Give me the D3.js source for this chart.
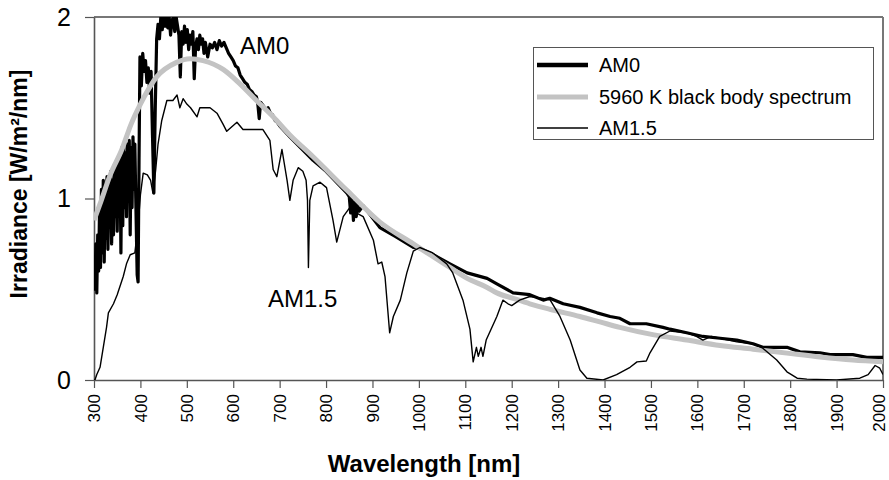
<!DOCTYPE html>
<html><head><meta charset="utf-8">
<script src="https://cdn.jsdelivr.net/npm/d3@7"></script>
<style>
body{margin:0;background:#fff;}
svg text{font-family:"Liberation Sans",Arial,sans-serif;fill:#000;}
</style></head>
<body><svg id="c" width="889" height="480"></svg>
<script>
// Wavelength (nm) tick labels
const xTicks = [300,400,500,600,700,800,900,1000,1100,1200,1300,1400,1500,1600,1700,1800,1900,2000];
const yTicks = [0,1,2];

// AM0 extraterrestrial spectrum [nm, W/m²/nm]
const am0 = [
[300,0.60],[302,0.50],[304,0.75],[306,0.48],[308,0.80],[310,0.60],[312,0.95],[314,0.62],[316,1.05],[318,0.70],
[320,1.10],[322,0.65],[324,1.02],[326,0.78],[328,1.12],[330,0.72],[332,1.08],[334,0.85],[336,1.15],[338,0.75],
[340,1.10],[342,0.80],[344,1.18],[346,0.90],[348,1.20],[350,0.82],[352,1.22],[354,0.95],[356,1.25],[358,0.70],
[360,1.28],[362,0.85],[364,1.30],[366,0.95],[368,1.25],[370,0.90],[372,1.30],[374,1.00],[376,1.32],[378,0.80],
[380,1.28],[382,0.95],[384,1.34],[386,1.05],[388,1.30],[390,1.00],[393,0.58],[395,0.54],[397,1.20],[399,1.78],
[402,1.62],[405,1.80],[408,1.70],[411,1.76],[414,1.64],[417,1.72],[420,1.58],[423,1.70],[426,1.35],[429,1.03],
[432,1.50],[435,1.88],[438,1.96],[441,1.88],[444,2.00],[447,1.93],[450,2.00],[453,1.95],[456,2.00],[459,1.94],
[462,2.00],[465,1.90],[468,1.98],[471,2.00],[474,1.92],[477,2.00],[480,1.95],[483,1.90],[486,1.67],[489,1.92],
[492,1.85],[495,1.95],[498,1.86],[501,1.93],[504,1.82],[507,1.90],[510,1.85],[513,1.92],[516,1.66],[519,1.84],
[522,1.88],[525,1.82],[528,1.90],[531,1.85],[534,1.88],[537,1.80],[540,1.86],[545,1.78],[550,1.85],[555,1.83],
[560,1.86],[565,1.82],[570,1.87],[575,1.84],[580,1.86],[585,1.83],[590,1.80],[595,1.78],[600,1.76],[605,1.73],
[610,1.72],[615,1.68],[620,1.66],[625,1.64],[630,1.63],[635,1.60],[640,1.59],[645,1.57],[650,1.56],[653,1.52],
[656,1.44],[659,1.53],[665,1.51],[670,1.49],[675,1.50],[680,1.47],[685,1.46],[690,1.43],[695,1.42],[700,1.40],
[722,1.34],[772,1.21],[800,1.15],[845,1.03],[850,1.01],[853,0.92],[856,1.00],[859,0.88],[862,0.98],[865,0.90],
[868,0.97],[871,0.93],[880,0.96],[916,0.84],[950,0.79],[988,0.73],[1000,0.725],[1024,0.70],[1067,0.64],[1104,0.59],
[1147,0.56],[1168,0.53],[1203,0.48],[1239,0.47],[1268,0.44],[1282,0.45],[1311,0.42],[1347,0.40],[1384,0.37],[1412,0.35],
[1433,0.34],[1455,0.31],[1490,0.31],[1526,0.29],[1541,0.28],[1577,0.26],[1612,0.24],[1649,0.23],[1685,0.22],[1720,0.20],
[1741,0.18],[1793,0.18],[1821,0.155],[1864,0.15],[1886,0.14],[1935,0.14],[1965,0.125],[2000,0.125]
];

// 5960 K black body spectrum [nm, W/m²/nm]
const blackBody = [
[300,0.88],[313,0.97],[335,1.13],[360,1.27],[380,1.41],[400,1.52],[435,1.67],[478,1.75],[507,1.77],[535,1.76],
[579,1.71],[615,1.63],[650,1.54],[686,1.45],[722,1.35],[772,1.23],[845,1.045],[916,0.87],[988,0.75],[1024,0.69],
[1067,0.62],[1104,0.56],[1147,0.51],[1168,0.48],[1203,0.45],[1239,0.42],[1282,0.39],[1347,0.35],[1390,0.32],[1433,0.29],
[1504,0.25],[1577,0.22],[1649,0.19],[1720,0.17],[1793,0.148],[1864,0.127],[1935,0.11],[2000,0.10]
];

// AM1.5 terrestrial spectrum [nm, W/m²/nm]
const am15 = [
[300,0],[302,0.0],[306,0.03],[313,0.07],[320,0.18],[327,0.29],[331,0.37],[342,0.42],[350,0.47],[363,0.57],
[370,0.64],[378,0.69],[388,0.70],[395,0.85],[400,1.02],[406,1.14],[415,1.13],[422,1.10],[427,1.03],[433,1.16],
[438,1.30],[446,1.43],[457,1.54],[470,1.54],[479,1.57],[485,1.50],[492,1.55],[500,1.52],[508,1.50],[522,1.45],
[528,1.50],[550,1.50],[565,1.47],[578,1.41],[586,1.37],[608,1.42],[621,1.38],[664,1.38],[679,1.32],[686,1.16],
[694,1.12],[705,1.27],[716,1.10],[722,0.99],[729,1.10],[740,1.17],[750,1.15],[757,1.10],[760,0.99],[762,0.62],
[765,0.99],[772,1.07],[787,1.09],[801,1.06],[815,0.88],[823,0.76],[837,0.90],[851,0.95],[866,0.92],[880,0.90],
[902,0.77],[912,0.64],[920,0.65],[927,0.57],[937,0.26],[945,0.35],[960,0.44],[974,0.59],[988,0.71],[1002,0.73],
[1030,0.70],[1060,0.64],[1073,0.59],[1095,0.44],[1110,0.28],[1117,0.10],[1124,0.18],[1128,0.13],[1134,0.18],[1138,0.13],
[1145,0.22],[1168,0.35],[1181,0.44],[1192,0.42],[1200,0.41],[1217,0.44],[1239,0.46],[1268,0.45],[1283,0.44],[1304,0.35],
[1326,0.22],[1347,0.055],[1362,0.01],[1397,0.0],[1426,0.03],[1455,0.07],[1470,0.10],[1490,0.105],[1498,0.15],[1519,0.24],
[1541,0.27],[1577,0.26],[1598,0.24],[1612,0.22],[1630,0.24],[1649,0.23],[1685,0.21],[1720,0.20],[1741,0.175],[1771,0.11],
[1793,0.045],[1815,0.01],[1836,0.005],[1900,0],[1950,0.01],[1968,0.03],[1983,0.08],[1993,0.065],[2000,0.03]
];

const legendLabels = ["AM0","5960 K black body spectrum","AM1.5"];

const svg = d3.select("#c");
const x = d3.scaleLinear().domain([300,2000]).range([94,883]);
const y = d3.scaleLinear().domain([0,2]).range([380,17]);

svg.append("defs").append("clipPath").attr("id","clip")
  .append("rect").attr("x",94).attr("y",17).attr("width",789).attr("height",363);

// frame (top & right)
svg.append("line").attr("x1",x(300)).attr("x2",x(2000)).attr("y1",y(2)).attr("y2",y(2))
  .attr("stroke","#777").attr("stroke-width",2);
svg.append("line").attr("x1",x(2000)).attr("x2",x(2000)).attr("y1",y(2)).attr("y2",y(0))
  .attr("stroke","#777").attr("stroke-width",2);

// axes
const xAxis = svg.append("g").attr("transform",`translate(0,${y(0)})`)
  .call(d3.axisBottom(x).tickValues(xTicks).tickFormat(d3.format("d")).tickSize(8).tickSizeOuter(0));
xAxis.select(".domain").attr("stroke","#555").attr("stroke-width",1.6);
xAxis.selectAll(".tick line").attr("stroke","#555").attr("stroke-width",1.2);
xAxis.selectAll(".tick text")
  .attr("transform","rotate(-90)")
  .attr("x",-14).attr("y",0).attr("dy",d => d === 2000 ? "0.08em" : "0.33em")
  .attr("text-anchor","end")
  .style("font-size","17px").style("font-family","'Liberation Sans',Arial,sans-serif").attr("fill","#000");

const yAxis = svg.append("g").attr("transform",`translate(${x(300)},0)`)
  .call(d3.axisLeft(y).tickValues(yTicks).tickFormat(d3.format("d")).tickSize(9).tickSizeOuter(0));
yAxis.select(".domain").attr("stroke","#555").attr("stroke-width",1.6);
yAxis.selectAll(".tick line").attr("stroke","#555").attr("stroke-width",1.2);
yAxis.selectAll(".tick text").attr("x",-23)
  .style("font-size","25px").style("font-family","'Liberation Sans',Arial,sans-serif").attr("fill","#000");

// data lines
const line = d3.line().x(d=>x(d[0])).y(d=>y(d[1]));
const g = svg.append("g").attr("clip-path","url(#clip)");
g.append("path").datum(am0).attr("d",line).attr("fill","none").attr("stroke","#000")
  .attr("stroke-width",3.2).attr("stroke-linejoin","round");
g.append("path").datum(blackBody).attr("d",d3.line().x(d=>x(d[0])).y(d=>y(d[1])).curve(d3.curveMonotoneX))
  .attr("fill","none").attr("stroke","#c3c3c3").attr("stroke-width",5).attr("stroke-linejoin","round");
g.append("path").datum(am15).attr("d",line).attr("fill","none").attr("stroke","#000")
  .attr("stroke-width",1.4).attr("stroke-linejoin","round");

// annotations
svg.append("text").attr("x",240).attr("y",54).style("font-size","24px").text("AM0");
svg.append("text").attr("x",268).attr("y",307).style("font-size","24px").text("AM1.5");

// axis titles
svg.append("text").attr("x",424).attr("y",472).attr("text-anchor","middle")
  .style("font-size","24px").style("font-weight","bold").text("Wavelength [nm]");
svg.append("text").attr("transform","translate(27,184) rotate(-90)").attr("text-anchor","middle")
  .style("font-size","23px").style("font-weight","bold").text("Irradiance [W/m²/nm]");

// legend
const lg = svg.append("g");
lg.append("rect").attr("x",533.5).attr("y",47.5).attr("width",340).attr("height",92)
  .attr("fill","#fff").attr("stroke","#555").attr("stroke-width",1);
const lStyles = [{c:"#000",w:4.5},{c:"#c3c3c3",w:5},{c:"#000",w:1.5}];
const lY = [65,97,128];
legendLabels.forEach((t,i)=>{
  lg.append("line").attr("x1",537).attr("x2",588).attr("y1",lY[i]).attr("y2",lY[i])
    .attr("stroke",lStyles[i].c).attr("stroke-width",lStyles[i].w);
  lg.append("text").attr("x",599).attr("y",lY[i]+7).style("font-size","20px").text(t);
});
</script></body></html>
